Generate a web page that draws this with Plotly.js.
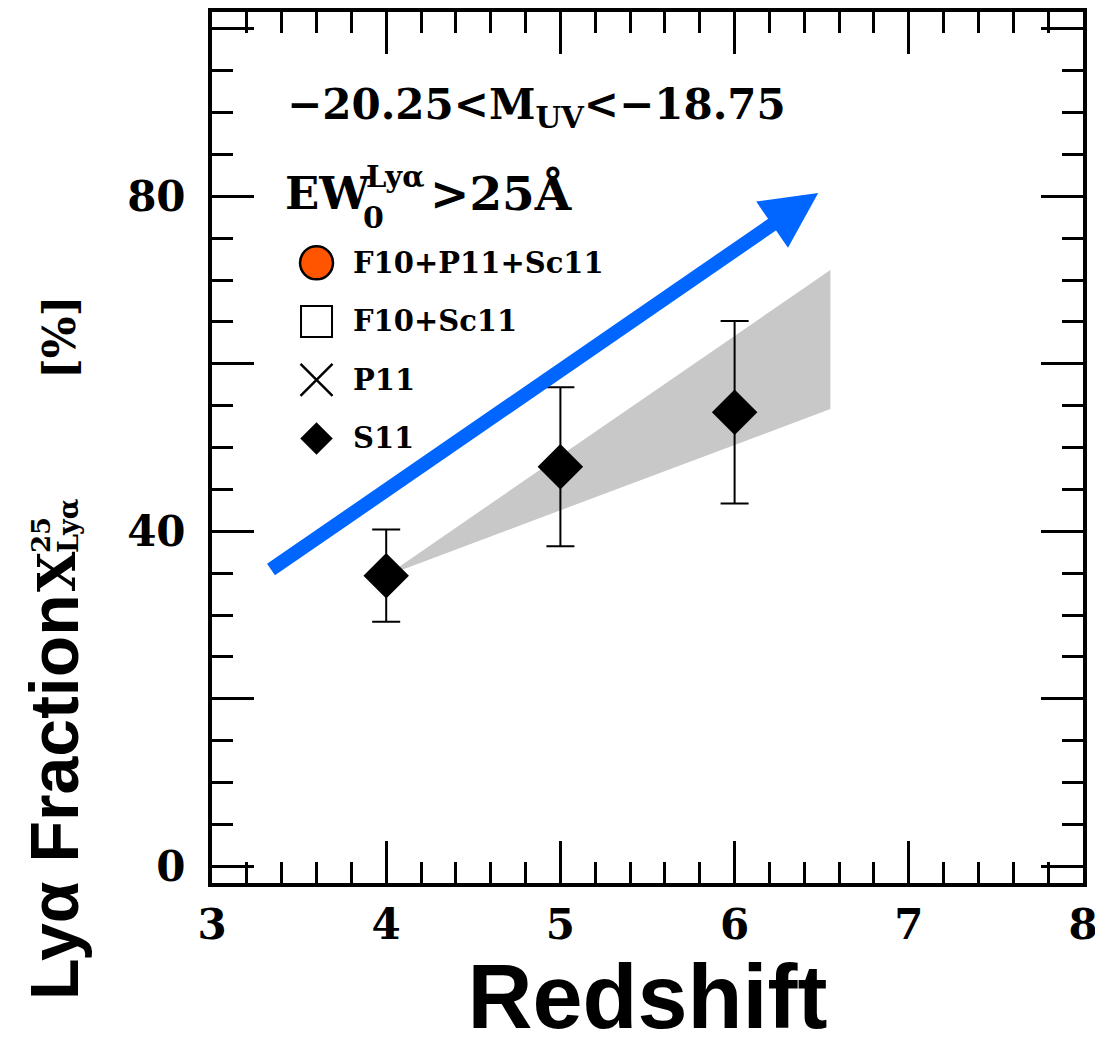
<!DOCTYPE html>
<html>
<head>
<meta charset="utf-8">
<script src="https://cdn.plot.ly/plotly-3.0.1.min.js"></script>
<style>
  html, body { margin: 0; padding: 0; background: #ffffff; }
  #chart { width: 1095px; height: 1047px; }
</style>
</head>
<body>
<div id="chart"></div>
<script>
// Lya fraction with EW > 25 A versus redshift, -20.25 < M_UV < -18.75
const redshift = [4, 5, 6];
const s11Fraction = [34.7, 47.7, 54.2];
const s11Error = [5.5, 9.5, 10.9];

// shaded wedge: lower and upper edges
const bandX = [4, 6.55];
const bandLow = [34.7, 54.6];
const bandHigh = [34.7, 71.2];

// trend arrow: tail then head
const arrowX = [3.33, 6.48];
const arrowY = [35.3, 80.4];

const legendNames = ['F10+P11+Sc11', 'F10+Sc11', 'P11', 'S11'];

const xTickVals = [3, 4, 5, 6, 7, 8];
const yTickVals = [0, 20, 40, 60, 80, 100];
const yTickText = ['0', '', '40', '', '80', ''];

const SERIF = 'DejaVu Serif';
const SANS = 'Liberation Sans';

// key placement, as fractions of the axes box
const keyX = 0.120, keyTextX = 0.160, keyTop = 0.712, keyStep = 0.0672;
const keyY = legendNames.map((_, i) => keyTop - i * keyStep);

// pixel position -> fraction of the axes box (box spans 212..1083 by 12..883)
const px = v => (v - 212) / 871;
const py = v => (883 - v) / 871;

const traces = [
  {
    type: 'scatter', mode: 'lines', fill: 'toself',
    x: bandX.concat(bandX.slice().reverse()),
    y: bandLow.concat(bandHigh.slice().reverse()),
    fillcolor: '#c8c8c8', line: { width: 0, color: '#c8c8c8' },
    hoverinfo: 'skip', showlegend: false
  },
  {
    type: 'scatter', mode: 'markers', name: legendNames[3],
    x: redshift, y: s11Fraction,
    error_y: { type: 'data', array: s11Error, visible: true, color: '#000', thickness: 2, width: 14 },
    marker: { symbol: 'diamond', size: 35, color: '#000' },
    showlegend: false
  },
  // key markers
  {
    type: 'scatter', mode: 'markers', xaxis: 'x2', yaxis: 'y2',
    x: [keyX], y: [keyY[0]],
    marker: { symbol: 'circle', size: 33, color: '#ff5500', line: { color: '#000', width: 2.5 } },
    showlegend: false, hoverinfo: 'skip'
  },
  {
    type: 'scatter', mode: 'markers', xaxis: 'x2', yaxis: 'y2',
    x: [keyX], y: [keyY[1]],
    marker: { symbol: 'square-open', size: 31, color: '#000', line: { width: 2 } },
    showlegend: false, hoverinfo: 'skip'
  },
  {
    type: 'scatter', mode: 'markers', xaxis: 'x2', yaxis: 'y2',
    x: [keyX], y: [keyY[2]],
    marker: { symbol: 'x-thin-open', size: 32, color: '#000', line: { width: 2.5 } },
    showlegend: false, hoverinfo: 'skip'
  },
  {
    type: 'scatter', mode: 'markers', xaxis: 'x2', yaxis: 'y2',
    x: [keyX], y: [keyY[3]],
    marker: { symbol: 'diamond', size: 25, color: '#000' },
    showlegend: false, hoverinfo: 'skip'
  }
];

const tickFont = { family: SERIF, size: 42, color: '#000', weight: 'bold' };

const annotations = [
  // trend arrow
  {
    xref: 'x', yref: 'y', axref: 'x', ayref: 'y',
    x: arrowX[1], y: arrowY[1], ax: arrowX[0], ay: arrowY[0],
    text: '', showarrow: true, arrowhead: 2, arrowsize: 0.8,
    arrowwidth: 14, arrowcolor: '#0066ff'
  },
  // selection text
  {
    xref: 'paper', yref: 'paper', x: px(285), y: 0.890, xanchor: 'left', yanchor: 'middle',
    text: '\u221220.25<M<sub>UV</sub><\u221218.75', showarrow: false,
    font: { family: SERIF, size: 42, color: '#000', weight: 'bold' }
  },
  {
    xref: 'paper', yref: 'paper', x: px(283), y: 0.792, xanchor: 'left', yanchor: 'middle',
    text: 'EW', showarrow: false,
    font: { family: SERIF, size: 45, color: '#000', weight: 'bold' }
  },
  {
    xref: 'paper', yref: 'paper', x: px(364), y: 0.811, xanchor: 'left', yanchor: 'middle',
    text: 'Ly\u03b1', showarrow: false,
    font: { family: SERIF, size: 29, color: '#000', weight: 'bold' }
  },
  {
    xref: 'paper', yref: 'paper', x: px(361), y: 0.764, xanchor: 'left', yanchor: 'middle',
    text: '0', showarrow: false,
    font: { family: SERIF, size: 30, color: '#000', weight: 'bold' }
  },
  {
    xref: 'paper', yref: 'paper', x: px(428), y: 0.792, xanchor: 'left', yanchor: 'middle',
    text: '>25\u00c5', showarrow: false,
    font: { family: SERIF, size: 47, color: '#000', weight: 'bold' }
  },
  // y-axis title pieces (rotated)
  {
    xref: 'paper', yref: 'paper', x: px(54), y: py(797),
    xanchor: 'center', yanchor: 'middle', textangle: -90,
    text: 'Ly\u03b1 Fraction', showarrow: false,
    font: { family: SANS, size: 68, color: '#000', weight: 'bold' }
  },
  {
    xref: 'paper', yref: 'paper', x: px(56), y: py(572),
    xanchor: 'center', yanchor: 'middle', textangle: -90,
    text: 'X', showarrow: false,
    font: { family: SERIF, size: 52, color: '#000', weight: 'bold' }
  },
  {
    xref: 'paper', yref: 'paper', x: px(41), y: py(535),
    xanchor: 'center', yanchor: 'middle', textangle: -90,
    text: '25', showarrow: false,
    font: { family: SERIF, size: 26, color: '#000', weight: 'bold' }
  },
  {
    xref: 'paper', yref: 'paper', x: px(68), y: py(526),
    xanchor: 'center', yanchor: 'middle', textangle: -90,
    text: 'Ly\u03b1', showarrow: false,
    font: { family: SERIF, size: 27, color: '#000', weight: 'bold' }
  },
  {
    xref: 'paper', yref: 'paper', x: px(60), y: py(338),
    xanchor: 'center', yanchor: 'middle', textangle: -90,
    text: '[%]', showarrow: false,
    font: { family: SERIF, size: 44, color: '#000', weight: 'bold' }
  }
];

// key labels
legendNames.forEach((name, i) => {
  annotations.push({
    xref: 'paper', yref: 'paper', x: keyTextX, y: keyY[i],
    xanchor: 'left', yanchor: 'middle', text: name, showarrow: false,
    font: { family: SERIF, size: 29, color: '#000', weight: 'bold' }
  });
});

const layout = {
  width: 1095, height: 1047,
  margin: { l: 212, r: 12, t: 12, b: 164, pad: 0 },
  paper_bgcolor: '#ffffff', plot_bgcolor: '#ffffff',
  showlegend: false,
  xaxis: {
    range: [3, 8], tickvals: xTickVals, ticktext: xTickVals.map(String),
    ticks: 'inside', ticklen: 42, tickwidth: 3, tickcolor: '#000',
    minor: { dtick: 0.2, tick0: 3, ticks: 'inside', ticklen: 21, tickwidth: 3, tickcolor: '#000', showgrid: false },
    showline: true, linewidth: 4, linecolor: '#000', mirror: 'ticks',
    showgrid: false, zeroline: false, tickfont: tickFont, ticklabelstandoff: 2,
    ticklabeloverflow: 'allow',
    title: { text: 'Redshift', font: { family: SANS, size: 90, color: '#000', weight: 'bold' }, standoff: 8 },
    automargin: false, fixedrange: true
  },
  yaxis: {
    range: [-2, 102], tickvals: yTickVals, ticktext: yTickText,
    ticks: 'inside', ticklen: 42, tickwidth: 3, tickcolor: '#000',
    minor: { dtick: 5, tick0: 0, ticks: 'inside', ticklen: 21, tickwidth: 3, tickcolor: '#000', showgrid: false },
    showline: true, linewidth: 4, linecolor: '#000', mirror: 'ticks',
    showgrid: false, zeroline: false, tickfont: tickFont, ticklabelstandoff: 14,
    ticklabeloverflow: 'allow',
    automargin: false, fixedrange: true
  },
  xaxis2: { overlaying: 'x', range: [0, 1], visible: false, fixedrange: true },
  yaxis2: { overlaying: 'y', range: [0, 1], visible: false, fixedrange: true },
  annotations: annotations
};

Plotly.newPlot('chart', traces, layout, { displayModeBar: false, staticPlot: true });
</script>
</body>
</html>
